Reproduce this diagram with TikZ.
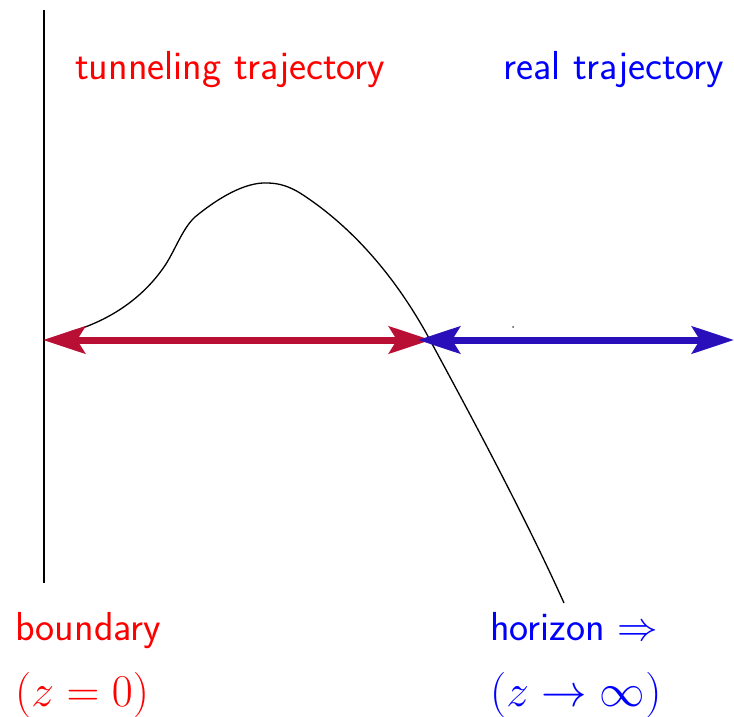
\RequirePackage{fix-cm}
\documentclass[tikz,border=0pt]{standalone}
\usepackage{fontspec}
\usetikzlibrary{arrows.meta}
\definecolor{arrred}{RGB}{185,15,52}
\definecolor{arrblue}{RGB}{40,15,185}
\begin{document}
\begin{tikzpicture}[x=1pt,y=-1pt,
  lbl/.style={anchor=base west,inner sep=0pt,font=\sffamily\fontsize{40.5}{48}\selectfont},
  mlbl/.style={anchor=base west,inner sep=0pt,font=\fontsize{45.5}{54}\selectfont},
  bigarrow/.style={line width=7pt,{Stealth[length=42pt,width=27pt,inset=8pt]}-{Stealth[length=42pt,width=27pt,inset=8pt]}},
  thinline/.style={line width=1.3pt}]
\useasboundingbox (0,0) rectangle (734,717);
% vertical axis
\coordinate (vtop) at (44,10);
\coordinate (vbot) at (44,583);
\draw[thinline] (vtop) -- (vbot);
% curve
\coordinate (c0) at (70,332);
\coordinate (c1) at (166,264);
\coordinate (c2) at (195,217);
\coordinate (c3) at (267,183);
\coordinate (c4) at (300,193);
\coordinate (c5) at (430,340);
\coordinate (c6) at (564,603);
\draw[thinline] (c0) .. controls (112,320) and (145,296) .. (c1)
  .. controls (176,248) and (183,228) .. (c2)
  .. controls (218,198) and (245,182) .. (c3)
  .. controls (280,183) and (290,187) .. (c4)
  .. controls (350,225) and (395,275) .. (c5)
  .. controls (452,381) and (520,505) .. (c6);
% arrows
\coordinate (rl) at (43,340);
\coordinate (rr) at (431,340);
\coordinate (bl) at (418,340);
\coordinate (br) at (734,340);
\draw[bigarrow,arrred] (rl) -- (rr);
\draw[bigarrow,arrblue] (bl) -- (br);
% stray dot
\fill[black!70] (513,327) circle (1pt);
% labels
\node[lbl,text=red] (tun) at (75,80) {tunneling trajectory};
\node[lbl,text=blue] (real) at (503,80) {real trajectory};
\node[lbl,text=red] (bnd) at (15,640) {boundary};
\node[mlbl,text=red] (z0) at (15,706) {$(z=0)$};
\node[lbl,text=blue] (hor) at (490,640) {horizon $\Rightarrow$};
\node[mlbl,text=blue] (zinf) at (490,706) {$(z\to\infty)$};
\end{tikzpicture}
\end{document}
